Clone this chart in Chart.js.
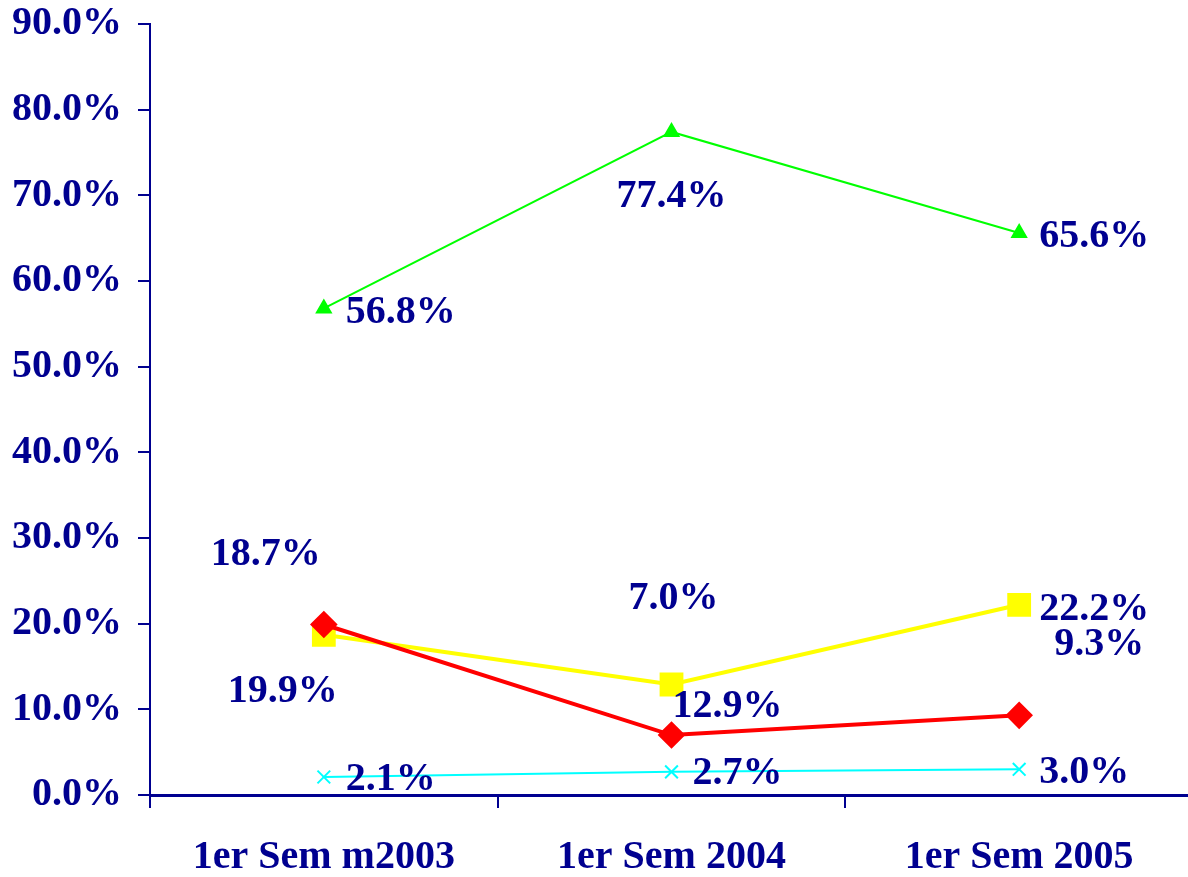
<!DOCTYPE html>
<html>
<head>
<meta charset="utf-8">
<script src="https://cdn.jsdelivr.net/npm/chart.js@4/dist/chart.umd.min.js"></script>
<style>
  html, body { margin: 0; padding: 0; background: #fff; overflow: hidden; }
  canvas { display: block; }
</style>
</head>
<body>
<canvas id="chart" width="1193" height="877"></canvas>
<script>
// data
const categories = ["1er Sem m2003", "1er Sem 2004", "1er Sem 2005"];
const greenValues = [56.8, 77.4, 65.6];
const redValues = [19.9, 7.0, 9.3];
const yellowValues = [18.7, 12.9, 22.2];
const cyanValues = [2.1, 2.7, 3.0];

const navy = "#000090";
const fontFamily = "'Liberation Serif', 'Times New Roman', serif";

// where each value label sits relative to its point (Excel placed them by hand)
const labelOffsets = {
    green:  [{ dx: 22, dy: 4, align: "left" }, { dx: 0, dy: 65, align: "center" }, { dx: 20, dy: 4, align: "left" }],
    red:    [{ dx: -41, dy: 67, align: "center" }, { dx: 2, dy: -136, align: "center" }, { dx: 80, dy: -71, align: "center" }],
    yellow: [{ dx: -58, dy: -80, align: "center" }, { dx: 1, dy: 22, align: "left" }, { dx: 20, dy: 5, align: "left" }],
    cyan:   [{ dx: 22, dy: 3, align: "left" }, { dx: 21, dy: 2, align: "left" }, { dx: 20, dy: 3, align: "left" }]
};

const valueLabels = {
    id: "valueLabels",
    afterDatasetsDraw(chart) {
        const ctx = chart.ctx;
        ctx.save();
        ctx.fillStyle = navy;
        ctx.font = "bold 40px " + fontFamily;
        ctx.textBaseline = "middle";
        chart.data.datasets.forEach((ds, di) => {
            const meta = chart.getDatasetMeta(di);
            const offs = labelOffsets[ds.key];
            meta.data.forEach((pt, i) => {
                const o = offs[i];
                ctx.textAlign = o.align;
                ctx.fillText(ds.data[i].toFixed(1) + "%", pt.x + o.dx, pt.y + o.dy);
            });
        });
        ctx.restore();
    }
};

new Chart(document.getElementById("chart"), {
    type: "line",
    data: {
        labels: categories,
        datasets: [
            { key: "green", data: greenValues, borderColor: "#00ff00", backgroundColor: "#00ff00", borderWidth: 2,
              pointStyle: "triangle", pointRadius: 8 },
            { key: "red", data: redValues, borderColor: "#ff0000", backgroundColor: "#ff0000", borderWidth: 4,
              pointStyle: "rectRot", pointRadius: 11 },
            { key: "yellow", data: yellowValues, borderColor: "#ffff00", backgroundColor: "#ffff00", borderWidth: 4,
              pointStyle: "rect", pointRadius: 14 },
            { key: "cyan", data: cyanValues, borderColor: "#00ffff", backgroundColor: "#00ffff", borderWidth: 2,
              pointStyle: "crossRot", pointRadius: 9, pointBorderWidth: 2 }
        ]
    },
    options: {
        responsive: false,
        animation: false,
        layout: { padding: 0, autoPadding: false },
        elements: { line: { tension: 0 } },
        plugins: {
            legend: { display: false },
            tooltip: { enabled: false }
        },
        scales: {
            x: {
                offset: true,
                afterFit(scale) { scale.height = 82; },
                border: { color: navy, width: 3 },
                grid: { offset: true, drawOnChartArea: false, color: navy, tickLength: 13, lineWidth: 2 },
                ticks: { color: navy, padding: 26, font: { family: fontFamily, size: 40, weight: "bold" }, maxRotation: 0 }
            },
            y: {
                min: 0,
                max: 90,
                afterFit(scale) {
                    scale.width = 150;
                    scale.paddingTop = 24;
                },
                border: { color: navy, width: 2 },
                grid: { drawOnChartArea: false, color: navy, tickLength: 12, lineWidth: 2 },
                ticks: {
                    stepSize: 10,
                    color: navy,
                    padding: 16,
                    font: { family: fontFamily, size: 40, weight: "bold" },
                    callback: v => v.toFixed(1) + "%"
                }
            }
        }
    },
    plugins: [valueLabels]
});
</script>
</body>
</html>
